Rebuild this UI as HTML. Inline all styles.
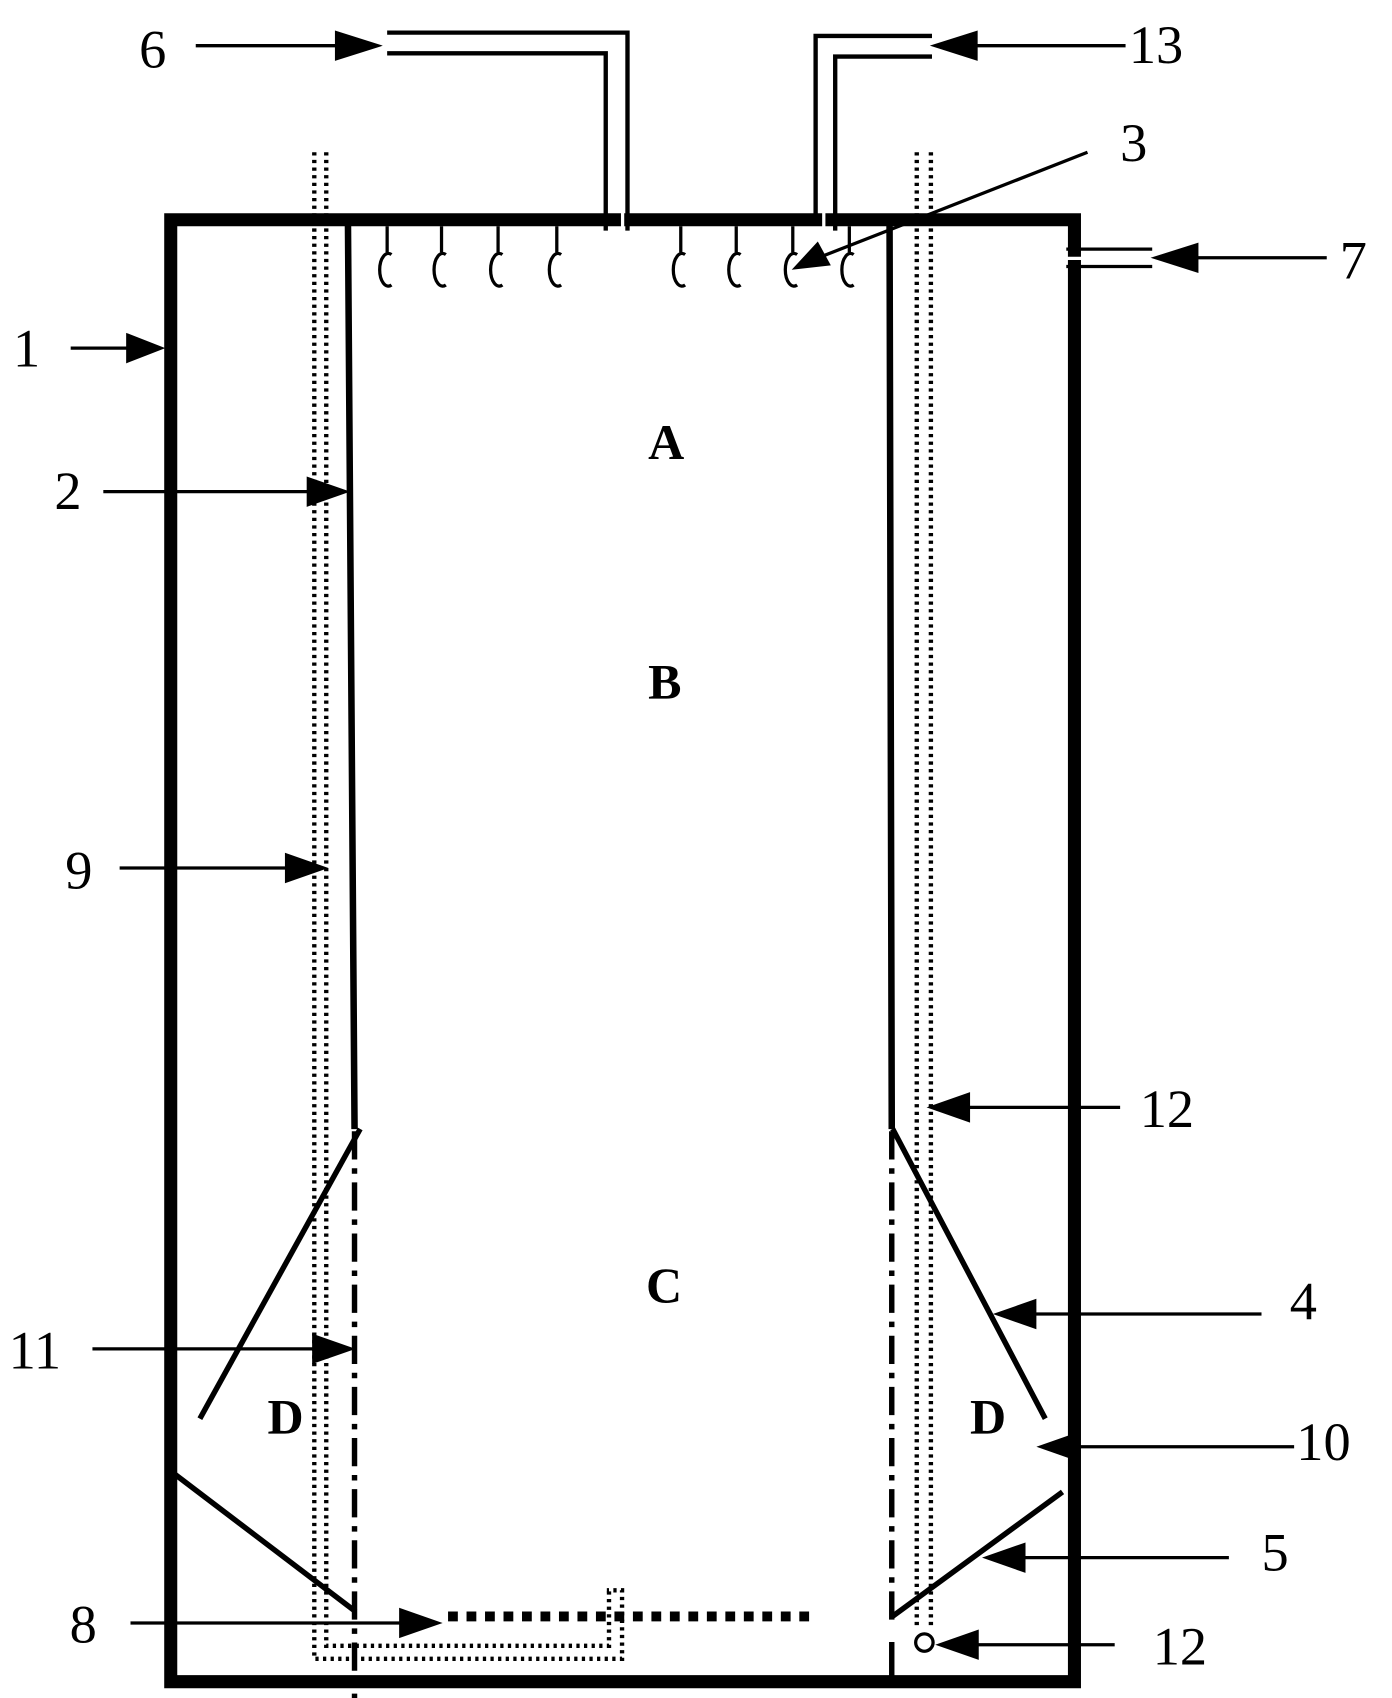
<!DOCTYPE html>
<html><head><meta charset="utf-8"><style>html,body{margin:0;padding:0;background:#fff}svg{display:block}</style></head>
<body>
<svg width="1392" height="1698" viewBox="0 0 1280 1561" preserveAspectRatio="none" xmlns="http://www.w3.org/2000/svg">
<g fill="none" stroke="#000" stroke-linecap="square">
<path d="M565 202 H157 V1546 H988 V245" stroke-width="12"/>
<path d="M580 202 H750" stroke-width="12"/>
<path d="M765 202 H988 V230" stroke-width="12"/>
<path d="M358 30 H577 V210" stroke-width="4"/>
<path d="M358 49 H557 V210" stroke-width="4"/>
<path d="M750 202 V33 H855" stroke-width="4"/>
<path d="M768 210 V52 H855" stroke-width="4"/>
<path d="M982 229 H1058" stroke-width="3"/>
<path d="M982 245 H1058" stroke-width="3"/>
<path d="M320 210 L326 1035" stroke-width="6"/>
<path d="M818 210 L820 1035" stroke-width="6"/>
<g stroke-width="4" stroke-dasharray="3 4" stroke-linecap="butt">
<path d="M289 140 V1525 H572 V1462 H558"/>
<path d="M300 140 V1513 H560 V1462"/>
<path d="M843 140 V1495"/>
<path d="M856 140 V1495"/>
</g>
<g stroke-width="5" stroke-dasharray="26 8 5 8" stroke-linecap="butt">
<path d="M326 1040 V1561"/>
<path d="M820 1040 V1490"/>
</g>
<path d="M820 1512 V1546" stroke-width="5"/>
<path d="M330 1040 L185 1302" stroke-width="5"/>
<path d="M822 1040 L960 1302" stroke-width="5"/>
<path d="M163 1357 L325 1480" stroke-width="5"/>
<path d="M975 1373 L822 1485" stroke-width="5"/>
<path d="M412 1486 H745" stroke-width="9" stroke-dasharray="9 8" stroke-linecap="butt"/>
<circle cx="850" cy="1510" r="8" stroke-width="3"/>
<g stroke-width="3" stroke-linecap="butt">
<path d="M356 208V232 M406 208V232 M458 208V232 M512 208V232 M626 208V232 M677 208V232 M729 208V232 M781 208V232"/>
<path d="M360 234 A8 15 0 1 0 360 262"/>
<path d="M410 234 A8 15 0 1 0 410 262"/>
<path d="M462 234 A8 15 0 1 0 462 262"/>
<path d="M516 234 A8 15 0 1 0 516 262"/>
<path d="M630 234 A8 15 0 1 0 630 262"/>
<path d="M681 234 A8 15 0 1 0 681 262"/>
<path d="M733 234 A8 15 0 1 0 733 262"/>
<path d="M785 234 A8 15 0 1 0 785 262"/>
</g>
<g stroke-width="3" stroke-linecap="butt">
<path d="M180 42 H320"/>
<path d="M1035 42 H885"/>
<path d="M1000 140 L755 236"/>
<path d="M1220 237 H1090"/>
<path d="M65 320 H120"/>
<path d="M95 452 H292"/>
<path d="M110 798 H270"/>
<path d="M1030 1018 H880"/>
<path d="M1160 1208 H945"/>
<path d="M85 1240 H295"/>
<path d="M1190 1330 H985"/>
<path d="M1130 1432 H935"/>
<path d="M120 1492 H375"/>
<path d="M1025 1512 H890"/>
</g>
</g>
<g fill="#000">
<polygon points="352,42 308,28 308,56"/>
<polygon points="855,42 899,28 899,56"/>
<polygon points="728,248 752,222 764,244"/>
<polygon points="1058,237 1102,223 1102,251"/>
<polygon points="152,320 116,306 116,334"/>
<polygon points="322,452 282,438 282,466"/>
<polygon points="302,798 262,784 262,812"/>
<polygon points="852,1018 892,1004 892,1032"/>
<polygon points="913,1208 953,1194 953,1222"/>
<polygon points="327,1240 287,1226 287,1254"/>
<polygon points="953,1330 993,1316 993,1344"/>
<polygon points="903,1432 943,1418 943,1446"/>
<polygon points="407,1492 367,1478 367,1506"/>
<polygon points="860,1512 900,1498 900,1526"/>
</g>
<g font-family="Liberation Serif, serif" font-size="50" fill="#000">
<text x="128" y="62">6</text>
<text x="1038" y="58">13</text>
<text x="1030" y="148">3</text>
<text x="1232" y="256">7</text>
<text x="12" y="337">1</text>
<text x="50" y="468">2</text>
<text x="60" y="817">9</text>
<text x="1048" y="1036">12</text>
<text x="1186" y="1213">4</text>
<text x="8" y="1258">11</text>
<text x="1192" y="1342">10</text>
<text x="1160" y="1444">5</text>
<text x="64" y="1510">8</text>
<text x="1060" y="1530">12</text>
</g>
<g font-family="Liberation Serif, serif" font-size="46" font-weight="bold" fill="#000">
<text x="596" y="422">A</text>
<text x="596" y="642">B</text>
<text x="594" y="1197">C</text>
<text x="246" y="1318">D</text>
<text x="892" y="1318">D</text>
</g>
</svg>
</body></html>
